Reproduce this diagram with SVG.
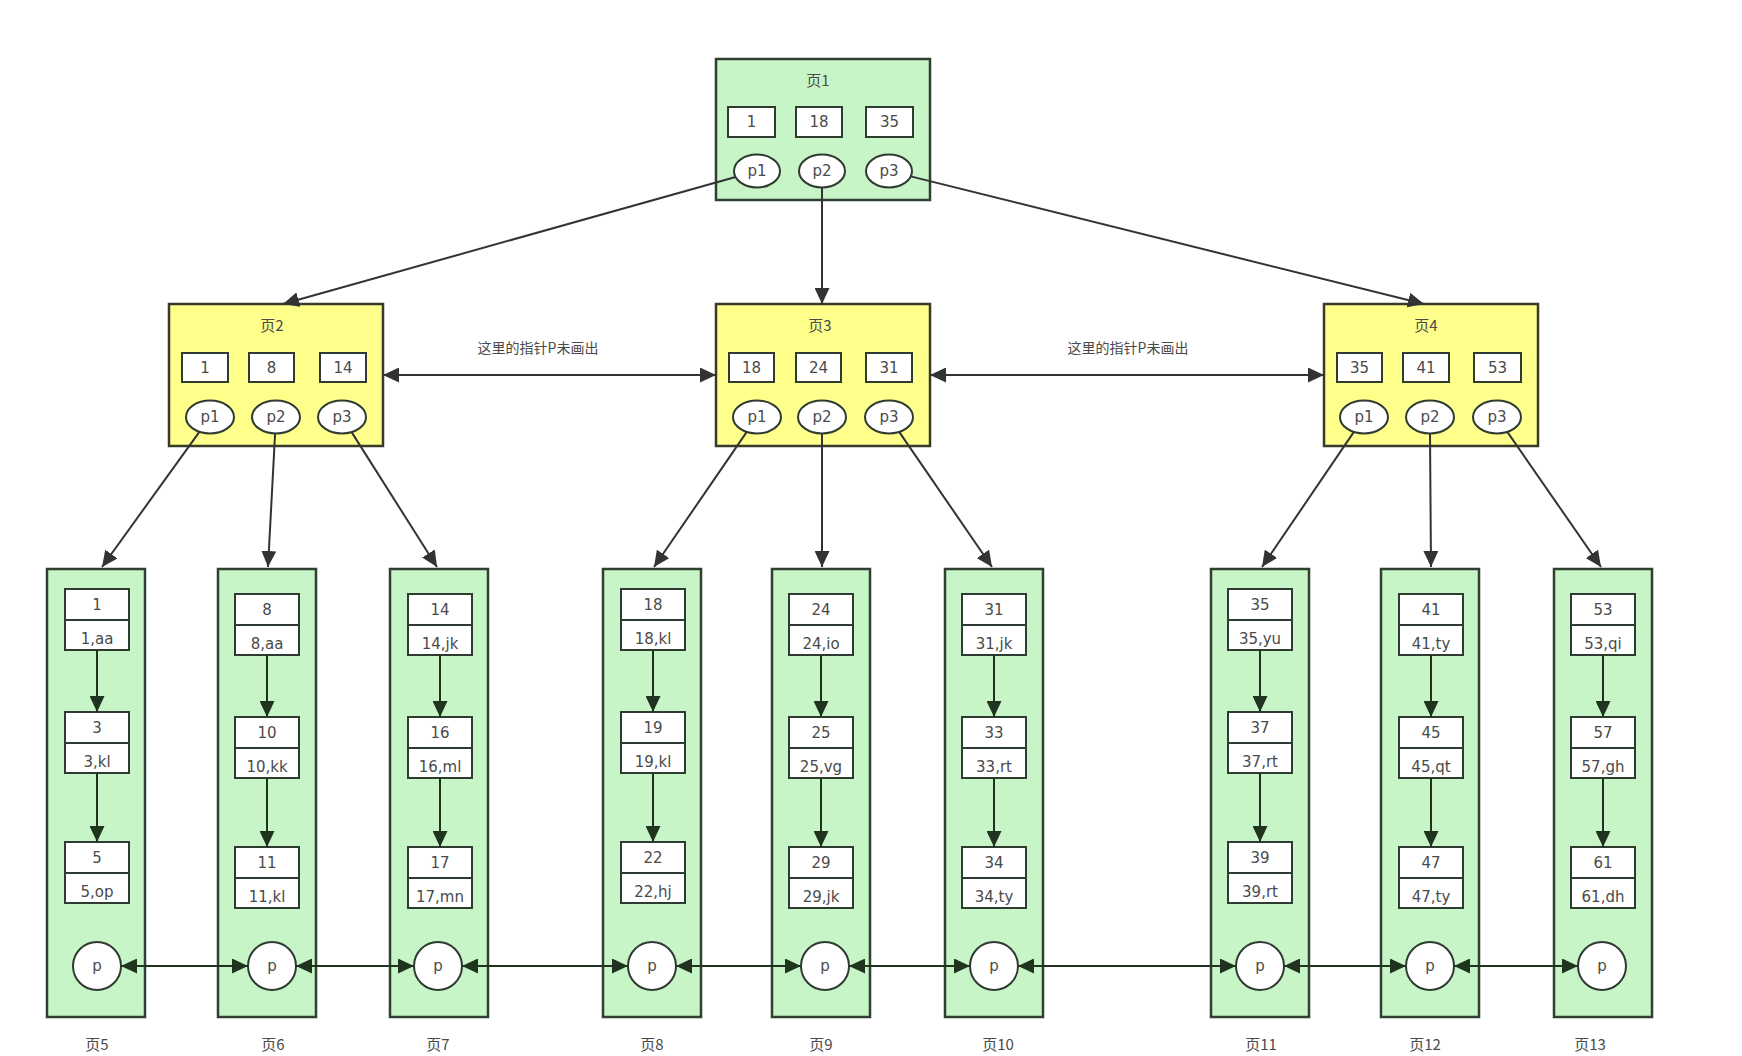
<svg xmlns="http://www.w3.org/2000/svg" width="1742" height="1056" viewBox="0 0 1742 1056">
<defs>
<style>
.pg{fill:#c8f5c8;stroke:#2f3f30;stroke-width:2.5}
.yl{fill:#ffff8c;stroke:#3a3a2a;stroke-width:2.5}
.key{fill:#fff;stroke:#2f3a30;stroke-width:2}
.el{fill:#fff;stroke:#2f3a30;stroke-width:2}
.t{font-family:"DejaVu Sans","Noto Sans CJK SC",sans-serif;font-size:15px;fill:#4a4a4a;text-anchor:middle}
.tt{font-family:"Noto Sans CJK SC","DejaVu Sans",sans-serif;font-size:15px;fill:#4a4a4a;text-anchor:middle}
.c{stroke:#333;stroke-width:2;fill:none}
.cg{stroke:#1f331f;stroke-width:2;fill:none}
</style>
<marker id="ah" markerUnits="userSpaceOnUse" markerWidth="17" markerHeight="15" refX="16" refY="7.5" orient="auto-start-reverse"><path d="M0,0 L16,7.5 L0,15 z" fill="#333"/></marker>
<marker id="ag" markerUnits="userSpaceOnUse" markerWidth="17" markerHeight="15" refX="16" refY="7.5" orient="auto-start-reverse"><path d="M0,0 L16,7.5 L0,15 z" fill="#1f331f"/></marker>
</defs>
<rect width="1742" height="1056" fill="#fff"/>

<g id="page1">
<rect class="pg" x="716" y="59" width="214" height="141"/>
<text class="tt" x="818" y="86">页1</text>
<rect class="key" x="728" y="107" width="47" height="30"/><text class="t" x="751.5" y="127">1</text>
<rect class="key" x="796" y="107" width="46" height="30"/><text class="t" x="819" y="127">18</text>
<rect class="key" x="866" y="107" width="47" height="30"/><text class="t" x="889.5" y="127">35</text>
<ellipse class="el" cx="757" cy="171" rx="23" ry="16.5"/><text class="t" x="757" y="176">p1</text>
<ellipse class="el" cx="822" cy="171" rx="23" ry="16.5"/><text class="t" x="822" y="176">p2</text>
<ellipse class="el" cx="889" cy="171" rx="23" ry="16.5"/><text class="t" x="889" y="176">p3</text>
</g>

<g id="page2">
<rect class="yl" x="169" y="304" width="214" height="142"/>
<text class="tt" x="272" y="331">页2</text>
<rect class="key" x="182" y="353" width="46" height="29"/><text class="t" x="205" y="373">1</text>
<rect class="key" x="249" y="353" width="45" height="29"/><text class="t" x="271.5" y="373">8</text>
<rect class="key" x="320" y="353" width="46" height="29"/><text class="t" x="343" y="373">14</text>
<ellipse class="el" cx="210" cy="417" rx="24" ry="16.5"/><text class="t" x="210" y="422">p1</text>
<ellipse class="el" cx="276" cy="417" rx="24" ry="16.5"/><text class="t" x="276" y="422">p2</text>
<ellipse class="el" cx="342" cy="417" rx="24" ry="16.5"/><text class="t" x="342" y="422">p3</text>
</g>

<g id="page3">
<rect class="yl" x="716" y="304" width="214" height="142"/>
<text class="tt" x="820" y="331">页3</text>
<rect class="key" x="729" y="353" width="45" height="29"/><text class="t" x="751.5" y="373">18</text>
<rect class="key" x="796" y="353" width="45" height="29"/><text class="t" x="818.5" y="373">24</text>
<rect class="key" x="866" y="353" width="46" height="29"/><text class="t" x="889" y="373">31</text>
<ellipse class="el" cx="757" cy="417" rx="24" ry="16.5"/><text class="t" x="757" y="422">p1</text>
<ellipse class="el" cx="822" cy="417" rx="24" ry="16.5"/><text class="t" x="822" y="422">p2</text>
<ellipse class="el" cx="889" cy="417" rx="24" ry="16.5"/><text class="t" x="889" y="422">p3</text>
</g>

<g id="page4">
<rect class="yl" x="1324" y="304" width="214" height="142"/>
<text class="tt" x="1426" y="331">页4</text>
<rect class="key" x="1337" y="353" width="45" height="29"/><text class="t" x="1359.5" y="373">35</text>
<rect class="key" x="1403" y="353" width="46" height="29"/><text class="t" x="1426" y="373">41</text>
<rect class="key" x="1474" y="353" width="47" height="29"/><text class="t" x="1497.5" y="373">53</text>
<ellipse class="el" cx="1364" cy="417" rx="24" ry="16.5"/><text class="t" x="1364" y="422">p1</text>
<ellipse class="el" cx="1430" cy="417" rx="24" ry="16.5"/><text class="t" x="1430" y="422">p2</text>
<ellipse class="el" cx="1497" cy="417" rx="24" ry="16.5"/><text class="t" x="1497" y="422">p3</text>
</g>

<g id="page5">
<rect class="pg" x="47" y="569" width="98" height="448"/>
<rect class="key" x="65" y="589" width="64" height="61"/><line class="key" x1="65" y1="620" x2="129" y2="620"/>
<text class="t" x="97" y="610">1</text><text class="t" x="97" y="644">1,aa</text>
<rect class="key" x="65" y="712" width="64" height="61"/><line class="key" x1="65" y1="743" x2="129" y2="743"/>
<text class="t" x="97" y="733">3</text><text class="t" x="97" y="767">3,kl</text>
<rect class="key" x="65" y="842" width="64" height="61"/><line class="key" x1="65" y1="873" x2="129" y2="873"/>
<text class="t" x="97" y="863">5</text><text class="t" x="97" y="897">5,op</text>
<circle class="el" cx="97" cy="966" r="24"/><text class="t" x="97" y="971">p</text>
<text class="tt" x="97" y="1050">页5</text>
</g>

<g id="page6">
<rect class="pg" x="218" y="569" width="98" height="448"/>
<rect class="key" x="235" y="594" width="64" height="61"/><line class="key" x1="235" y1="625" x2="299" y2="625"/>
<text class="t" x="267" y="615">8</text><text class="t" x="267" y="649">8,aa</text>
<rect class="key" x="235" y="717" width="64" height="61"/><line class="key" x1="235" y1="748" x2="299" y2="748"/>
<text class="t" x="267" y="738">10</text><text class="t" x="267" y="772">10,kk</text>
<rect class="key" x="235" y="847" width="64" height="61"/><line class="key" x1="235" y1="878" x2="299" y2="878"/>
<text class="t" x="267" y="868">11</text><text class="t" x="267" y="902">11,kl</text>
<circle class="el" cx="272" cy="966" r="24"/><text class="t" x="272" y="971">p</text>
<text class="tt" x="273" y="1050">页6</text>
</g>

<g id="page7">
<rect class="pg" x="390" y="569" width="98" height="448"/>
<rect class="key" x="408" y="594" width="64" height="61"/><line class="key" x1="408" y1="625" x2="472" y2="625"/>
<text class="t" x="440" y="615">14</text><text class="t" x="440" y="649">14,jk</text>
<rect class="key" x="408" y="717" width="64" height="61"/><line class="key" x1="408" y1="748" x2="472" y2="748"/>
<text class="t" x="440" y="738">16</text><text class="t" x="440" y="772">16,ml</text>
<rect class="key" x="408" y="847" width="64" height="61"/><line class="key" x1="408" y1="878" x2="472" y2="878"/>
<text class="t" x="440" y="868">17</text><text class="t" x="440" y="902">17,mn</text>
<circle class="el" cx="438" cy="966" r="24"/><text class="t" x="438" y="971">p</text>
<text class="tt" x="438" y="1050">页7</text>
</g>

<g id="page8">
<rect class="pg" x="603" y="569" width="98" height="448"/>
<rect class="key" x="621" y="589" width="64" height="61"/><line class="key" x1="621" y1="620" x2="685" y2="620"/>
<text class="t" x="653" y="610">18</text><text class="t" x="653" y="644">18,kl</text>
<rect class="key" x="621" y="712" width="64" height="61"/><line class="key" x1="621" y1="743" x2="685" y2="743"/>
<text class="t" x="653" y="733">19</text><text class="t" x="653" y="767">19,kl</text>
<rect class="key" x="621" y="842" width="64" height="61"/><line class="key" x1="621" y1="873" x2="685" y2="873"/>
<text class="t" x="653" y="863">22</text><text class="t" x="653" y="897">22,hj</text>
<circle class="el" cx="652" cy="966" r="24"/><text class="t" x="652" y="971">p</text>
<text class="tt" x="652" y="1050">页8</text>
</g>

<g id="page9">
<rect class="pg" x="772" y="569" width="98" height="448"/>
<rect class="key" x="789" y="594" width="64" height="61"/><line class="key" x1="789" y1="625" x2="853" y2="625"/>
<text class="t" x="821" y="615">24</text><text class="t" x="821" y="649">24,io</text>
<rect class="key" x="789" y="717" width="64" height="61"/><line class="key" x1="789" y1="748" x2="853" y2="748"/>
<text class="t" x="821" y="738">25</text><text class="t" x="821" y="772">25,vg</text>
<rect class="key" x="789" y="847" width="64" height="61"/><line class="key" x1="789" y1="878" x2="853" y2="878"/>
<text class="t" x="821" y="868">29</text><text class="t" x="821" y="902">29,jk</text>
<circle class="el" cx="825" cy="966" r="24"/><text class="t" x="825" y="971">p</text>
<text class="tt" x="821" y="1050">页9</text>
</g>

<g id="page10">
<rect class="pg" x="945" y="569" width="98" height="448"/>
<rect class="key" x="962" y="594" width="64" height="61"/><line class="key" x1="962" y1="625" x2="1026" y2="625"/>
<text class="t" x="994" y="615">31</text><text class="t" x="994" y="649">31,jk</text>
<rect class="key" x="962" y="717" width="64" height="61"/><line class="key" x1="962" y1="748" x2="1026" y2="748"/>
<text class="t" x="994" y="738">33</text><text class="t" x="994" y="772">33,rt</text>
<rect class="key" x="962" y="847" width="64" height="61"/><line class="key" x1="962" y1="878" x2="1026" y2="878"/>
<text class="t" x="994" y="868">34</text><text class="t" x="994" y="902">34,ty</text>
<circle class="el" cx="994" cy="966" r="24"/><text class="t" x="994" y="971">p</text>
<text class="tt" x="998" y="1050">页10</text>
</g>

<g id="page11">
<rect class="pg" x="1211" y="569" width="98" height="448"/>
<rect class="key" x="1228" y="589" width="64" height="61"/><line class="key" x1="1228" y1="620" x2="1292" y2="620"/>
<text class="t" x="1260" y="610">35</text><text class="t" x="1260" y="644">35,yu</text>
<rect class="key" x="1228" y="712" width="64" height="61"/><line class="key" x1="1228" y1="743" x2="1292" y2="743"/>
<text class="t" x="1260" y="733">37</text><text class="t" x="1260" y="767">37,rt</text>
<rect class="key" x="1228" y="842" width="64" height="61"/><line class="key" x1="1228" y1="873" x2="1292" y2="873"/>
<text class="t" x="1260" y="863">39</text><text class="t" x="1260" y="897">39,rt</text>
<circle class="el" cx="1260" cy="966" r="24"/><text class="t" x="1260" y="971">p</text>
<text class="tt" x="1261" y="1050">页11</text>
</g>

<g id="page12">
<rect class="pg" x="1381" y="569" width="98" height="448"/>
<rect class="key" x="1399" y="594" width="64" height="61"/><line class="key" x1="1399" y1="625" x2="1463" y2="625"/>
<text class="t" x="1431" y="615">41</text><text class="t" x="1431" y="649">41,ty</text>
<rect class="key" x="1399" y="717" width="64" height="61"/><line class="key" x1="1399" y1="748" x2="1463" y2="748"/>
<text class="t" x="1431" y="738">45</text><text class="t" x="1431" y="772">45,qt</text>
<rect class="key" x="1399" y="847" width="64" height="61"/><line class="key" x1="1399" y1="878" x2="1463" y2="878"/>
<text class="t" x="1431" y="868">47</text><text class="t" x="1431" y="902">47,ty</text>
<circle class="el" cx="1430" cy="966" r="24"/><text class="t" x="1430" y="971">p</text>
<text class="tt" x="1425" y="1050">页12</text>
</g>

<g id="page13">
<rect class="pg" x="1554" y="569" width="98" height="448"/>
<rect class="key" x="1571" y="594" width="64" height="61"/><line class="key" x1="1571" y1="625" x2="1635" y2="625"/>
<text class="t" x="1603" y="615">53</text><text class="t" x="1603" y="649">53,qi</text>
<rect class="key" x="1571" y="717" width="64" height="61"/><line class="key" x1="1571" y1="748" x2="1635" y2="748"/>
<text class="t" x="1603" y="738">57</text><text class="t" x="1603" y="772">57,gh</text>
<rect class="key" x="1571" y="847" width="64" height="61"/><line class="key" x1="1571" y1="878" x2="1635" y2="878"/>
<text class="t" x="1603" y="868">61</text><text class="t" x="1603" y="902">61,dh</text>
<circle class="el" cx="1602" cy="966" r="24"/><text class="t" x="1602" y="971">p</text>
<text class="tt" x="1590" y="1050">页13</text>
</g>

<g id="connectors">
<line class="c" x1="735.6" y1="177" x2="283" y2="304" marker-end="url(#ah)"/>
<line class="c" x1="822" y1="187.5" x2="822" y2="304" marker-end="url(#ah)"/>
<line class="c" x1="910.7" y1="176.4" x2="1424" y2="304" marker-end="url(#ah)"/>

<line class="c" x1="383" y1="375" x2="716" y2="375" marker-start="url(#ah)" marker-end="url(#ah)"/>
<line class="c" x1="930" y1="375" x2="1324" y2="375" marker-start="url(#ah)" marker-end="url(#ah)"/>
<text class="tt" x="538" y="353" style="font-size:14px">这里的指针P未画出</text>
<text class="tt" x="1128" y="353" style="font-size:14px">这里的指针P未画出</text>

<line class="c" x1="199.4" y1="431.8" x2="102" y2="567" marker-end="url(#ah)"/>
<line class="c" x1="275.1" y1="433.5" x2="268" y2="567" marker-end="url(#ah)"/>
<line class="c" x1="351.6" y1="432.1" x2="437" y2="567" marker-end="url(#ah)"/>
<line class="c" x1="746.8" y1="431.9" x2="654" y2="567" marker-end="url(#ah)"/>
<line class="c" x1="822" y1="433.5" x2="822" y2="567" marker-end="url(#ah)"/>
<line class="c" x1="899.2" y1="431.9" x2="992" y2="567" marker-end="url(#ah)"/>
<line class="c" x1="1353.9" y1="431.9" x2="1262" y2="567" marker-end="url(#ah)"/>
<line class="c" x1="1430" y1="433.5" x2="1431" y2="567" marker-end="url(#ah)"/>
<line class="c" x1="1507.3" y1="431.9" x2="1601" y2="567" marker-end="url(#ah)"/>

<line class="cg" x1="97" y1="650" x2="97" y2="712" marker-end="url(#ag)"/>
<line class="cg" x1="97" y1="773" x2="97" y2="842" marker-end="url(#ag)"/>
<line class="cg" x1="267" y1="655" x2="267" y2="717" marker-end="url(#ag)"/>
<line class="cg" x1="267" y1="778" x2="267" y2="847" marker-end="url(#ag)"/>
<line class="cg" x1="440" y1="655" x2="440" y2="717" marker-end="url(#ag)"/>
<line class="cg" x1="440" y1="778" x2="440" y2="847" marker-end="url(#ag)"/>
<line class="cg" x1="653" y1="650" x2="653" y2="712" marker-end="url(#ag)"/>
<line class="cg" x1="653" y1="773" x2="653" y2="842" marker-end="url(#ag)"/>
<line class="cg" x1="821" y1="655" x2="821" y2="717" marker-end="url(#ag)"/>
<line class="cg" x1="821" y1="778" x2="821" y2="847" marker-end="url(#ag)"/>
<line class="cg" x1="994" y1="655" x2="994" y2="717" marker-end="url(#ag)"/>
<line class="cg" x1="994" y1="778" x2="994" y2="847" marker-end="url(#ag)"/>
<line class="cg" x1="1260" y1="650" x2="1260" y2="712" marker-end="url(#ag)"/>
<line class="cg" x1="1260" y1="773" x2="1260" y2="842" marker-end="url(#ag)"/>
<line class="cg" x1="1431" y1="655" x2="1431" y2="717" marker-end="url(#ag)"/>
<line class="cg" x1="1431" y1="778" x2="1431" y2="847" marker-end="url(#ag)"/>
<line class="cg" x1="1603" y1="655" x2="1603" y2="717" marker-end="url(#ag)"/>
<line class="cg" x1="1603" y1="778" x2="1603" y2="847" marker-end="url(#ag)"/>

<line class="cg" x1="121" y1="966" x2="248" y2="966" marker-start="url(#ag)" marker-end="url(#ag)"/>
<line class="cg" x1="296" y1="966" x2="414" y2="966" marker-start="url(#ag)" marker-end="url(#ag)"/>
<line class="cg" x1="462" y1="966" x2="628" y2="966" marker-start="url(#ag)" marker-end="url(#ag)"/>
<line class="cg" x1="676" y1="966" x2="801" y2="966" marker-start="url(#ag)" marker-end="url(#ag)"/>
<line class="cg" x1="849" y1="966" x2="970" y2="966" marker-start="url(#ag)" marker-end="url(#ag)"/>
<line class="cg" x1="1018" y1="966" x2="1236" y2="966" marker-start="url(#ag)" marker-end="url(#ag)"/>
<line class="cg" x1="1284" y1="966" x2="1406" y2="966" marker-start="url(#ag)" marker-end="url(#ag)"/>
<line class="cg" x1="1454" y1="966" x2="1578" y2="966" marker-start="url(#ag)" marker-end="url(#ag)"/>
</g>
</svg>
